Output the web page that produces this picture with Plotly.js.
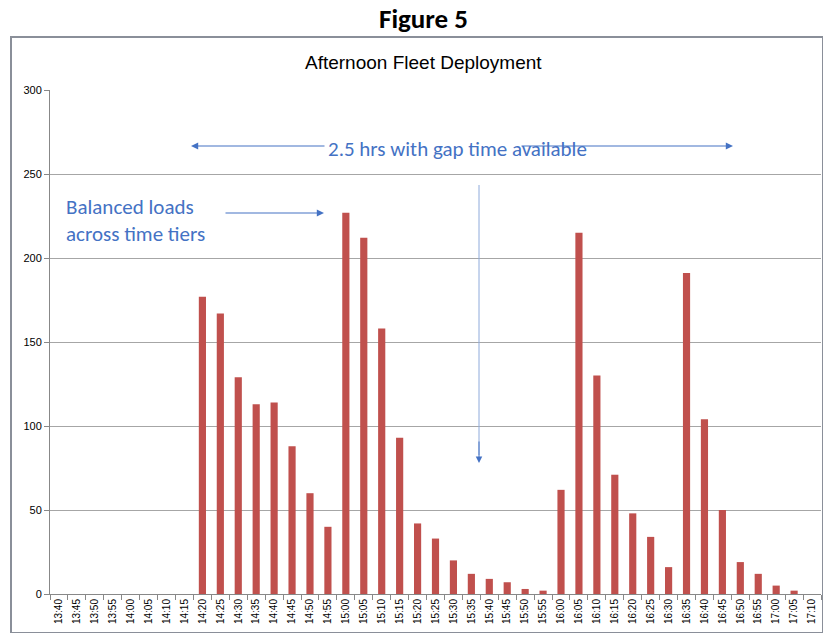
<!DOCTYPE html>
<html>
<head>
<meta charset="utf-8">
<script src="https://cdn.plot.ly/plotly-3.0.1.min.js"></script>
<style>html,body{margin:0;padding:0;background:#fff;}#chart{width:823px;height:633px;}</style>
</head>
<body>
<div id="chart"></div>
<script>
const times = ["13:40","13:45","13:50","13:55","14:00","14:05","14:10","14:15","14:20","14:25","14:30","14:35","14:40","14:45","14:50","14:55","15:00","15:05","15:10","15:15","15:20","15:25","15:30","15:35","15:40","15:45","15:50","15:55","16:00","16:05","16:10","16:15","16:20","16:25","16:30","16:35","16:40","16:45","16:50","16:55","17:00","17:05","17:10"];
const vehicles = [0,0,0,0,0,0,0,0,177,167,129,113,114,88,60,40,227,212,158,93,42,33,20,12,9,7,3,2,62,215,130,71,48,34,16,191,104,50,19,12,5,2,0];
const yTicks = [0,50,100,150,200,250,300];

const W = 823, H = 633, L = 50, R = 2, T = 90, B = 39;
const pw = W - L - R, ph = H - T - B;
const px = v => (v - L) / pw;
const py = v => (H - B - v) / ph;

const blue = "#4472C4";
const annFont = {family: "Carlito, 'Open Sans', 'Liberation Sans', sans-serif", size: 21, color: blue};

const data = [{
  type: "bar",
  x: times,
  y: vehicles,
  marker: {color: "#C0504D"},
  hoverinfo: "x+y"
}];

const layout = {
  width: W, height: H,
  margin: {l: L, r: R, t: T, b: B, pad: 0},
  paper_bgcolor: "#fff", plot_bgcolor: "#fff",
  bargap: 0.6,
  showlegend: false,
  font: {family: "'Liberation Sans Narrow', 'Liberation Sans', Arial, sans-serif", color: "#000"},
  xaxis: {
    type: "category",
    tickangle: -90,
    tickfont: {size: 10},
    showgrid: false,
    showline: true, linecolor: "#888", linewidth: 1,
    ticks: "outside", ticklen: 5, tickcolor: "#888",
    tickson: "boundaries",
    fixedrange: true
  },
  yaxis: {
    range: [0, 300],
    tickvals: yTicks,
    tickfont: {size: 11},
    showgrid: true, gridcolor: "#a6a6a6", gridwidth: 1,
    showline: true, linecolor: "#888", linewidth: 1,
    ticks: "outside", ticklen: 5, tickcolor: "#888",
    zeroline: false,
    fixedrange: true
  },
  shapes: [
    {type: "rect", xref: "paper", yref: "paper", x0: px(11), x1: px(823), y0: py(633), y1: py(37),
     line: {color: "#8a8f99", width: 2}, fillcolor: "rgba(0,0,0,0)", layer: "below"},
    {type: "line", xref: "paper", yref: "paper", x0: px(479), x1: px(479), y0: py(185), y1: py(455),
     line: {color: "#8eaadb", width: 1}}
  ],
  annotations: [
    {text: "<b>Figure 5</b>", xref: "paper", yref: "paper", x: px(423), y: py(18), showarrow: false,
     xanchor: "center", yanchor: "middle",
     font: {family: "Carlito, 'Open Sans', 'Liberation Sans', sans-serif", size: 27, color: "#000"}},
    {text: "Afternoon Fleet Deployment", xref: "paper", yref: "paper", x: px(423), y: py(63), showarrow: false,
     xanchor: "center", yanchor: "middle",
     font: {family: "'Liberation Sans Narrow', 'Liberation Sans', Arial, sans-serif", size: 19, color: "#000"}},
    {text: "Balanced loads<br>across time tiers", xref: "paper", yref: "paper", x: px(64), y: py(220),
     xanchor: "left", yanchor: "middle", align: "left", showarrow: false, font: annFont},
    {xref: "paper", yref: "paper", x: px(324), y: py(213), ax: px(224), ay: py(213), axref: "paper", ayref: "paper",
     text: "", showarrow: true, arrowhead: 2, arrowsize: 1.2, arrowwidth: 1.2, arrowcolor: blue},
    {xref: "paper", yref: "paper", x: px(191), y: py(146), ax: px(326), ay: py(146), axref: "paper", ayref: "paper",
     text: "", showarrow: true, arrowhead: 2, arrowsize: 1.2, arrowwidth: 1.2, arrowcolor: blue},
    {xref: "paper", yref: "paper", x: px(733), y: py(146), ax: px(520), ay: py(146), axref: "paper", ayref: "paper",
     text: "", showarrow: true, arrowhead: 2, arrowsize: 1.2, arrowwidth: 1.2, arrowcolor: blue},
    {text: "2.5 hrs with gap time available", xref: "paper", yref: "paper", x: px(457), y: py(149), showarrow: false,
     xanchor: "center", yanchor: "middle", font: annFont},
    {xref: "paper", yref: "paper", x: px(479), y: py(463), ax: px(479), ay: py(440), axref: "paper", ayref: "paper",
     text: "", showarrow: true, arrowhead: 2, arrowsize: 1.3, arrowwidth: 1, arrowcolor: blue}
  ]
};

Plotly.newPlot("chart", data, layout, {displayModeBar: false, staticPlot: true});
</script>
</body>
</html>
